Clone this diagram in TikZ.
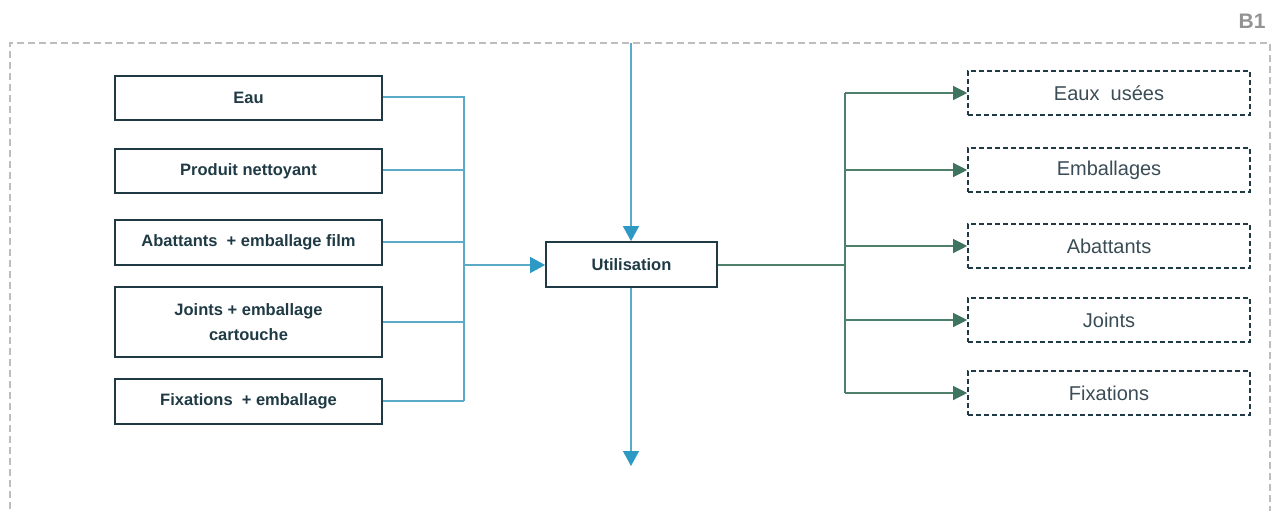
\documentclass[tikz,border=0pt]{standalone}
\usepackage{fontspec}
\setmainfont{Liberation Sans}
\usetikzlibrary{arrows.meta}
\definecolor{boxc}{HTML}{1F3A45}
\definecolor{bluel}{HTML}{5AAAC8}
\definecolor{bluet}{HTML}{2E9AC4}
\definecolor{greenl}{HTML}{4E806B}
\definecolor{greent}{HTML}{3F7560}
\definecolor{framec}{HTML}{BDBDBD}
\definecolor{txtr}{HTML}{3A4C55}
\begin{document}
\begin{tikzpicture}[x=1pt,y=-1pt,
  inbox/.style={draw=boxc,line width=1.8pt,minimum width=267pt,text=boxc,font=\bfseries\fontsize{16.5}{25}\selectfont,align=center,inner sep=0pt},
  outbox/.style={draw=boxc,line width=1.6pt,dash pattern=on 5pt off 3pt,minimum width=282pt,minimum height=44pt,text=txtr,font=\fontsize{20}{24}\selectfont,inner sep=0pt},
  bline/.style={draw=bluel,line width=1.3pt},
  barr/.style={bline,-{Triangle[length=15pt,width=16pt,fill=bluet,color=bluet]}},
  gline/.style={draw=greenl,line width=1.2pt},
  garr/.style={gline,-{Triangle[length=14pt,width=14pt,fill=greent,color=greent]}}]
\useasboundingbox (0,0) rectangle (1277,511);
\draw[framec,line width=1.5pt,dash pattern=on 7pt off 4pt] (10,520) -- (10,43) -- (1270,43) -- (1270,520);
\node[text=gray!85,font=\bfseries\fontsize{21}{24}\selectfont] (b1) at (1252,21) {B1};
% left inputs
\node[inbox,minimum height=44pt] (eau) at (248.5,98) {Eau};
\node[inbox,minimum height=44pt] (prod) at (248.5,171) {Produit nettoyant};
\node[inbox,minimum height=45pt] (abat) at (248.5,242.5) {Abattants\ \ + emballage film};
\node[inbox,minimum height=70pt] (joint) at (248.5,322) {Joints + emballage\\cartouche};
\node[inbox,minimum height=45pt] (fix) at (248.5,401.5) {Fixations\ \ + emballage};
% center
\node[inbox,minimum width=171pt,minimum height=45pt] (util) at (631.5,264.5) {Utilisation};
% right outputs
\node[outbox] (o1) at (1109,93) {Eaux\ \ usées};
\node[outbox] (o2) at (1109,170) {Emballages};
\node[outbox] (o3) at (1109,246) {Abattants};
\node[outbox] (o4) at (1109,320) {Joints};
\node[outbox] (o5) at (1109,393) {Fixations};
% coordinates
\coordinate (ltop) at (631,43);
\coordinate (lbot) at (631,466);
\coordinate (mj) at (464,265);
% left connectors
\draw[bline] (eau.east |- 0,97) -- (464,97) -- (464,401);
\draw[bline] (prod.east |- 0,170) -- (464,170);
\draw[bline] (abat.east |- 0,242) -- (464,242);
\draw[bline] (joint.east |- 0,322) -- (464,322);
\draw[bline] (fix.east |- 0,401) -- (464,401);
\draw[barr] (mj) -- (util.west |- mj);
\draw[barr] (ltop) -- (util.north -| ltop);
\draw[barr] (util.south -| lbot) -- (lbot);
% right connectors
\draw[gline] (util.east |- 0,265) -- (845,265);
\draw[garr] (845,93) -- (o1.west);
\draw[gline] (845,93) -- (845,393);
\draw[garr] (845,170) -- (o2.west);
\draw[garr] (845,246) -- (o3.west);
\draw[garr] (845,320) -- (o4.west);
\draw[garr] (845,393) -- (o5.west);
\end{tikzpicture}
\end{document}
